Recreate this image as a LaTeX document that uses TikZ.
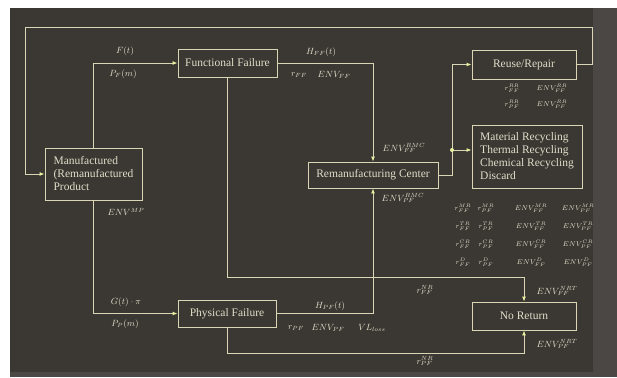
\documentclass[tikz,border=0pt]{standalone}
\usepackage{fontspec}
\setmainfont{Liberation Serif}
\usetikzlibrary{arrows.meta}
\definecolor{bgdark}{HTML}{3B3733}
\definecolor{bgstrip}{HTML}{4A4744}
\definecolor{linec}{HTML}{D9D5B5}
\definecolor{textc}{HTML}{E2DECA}
\definecolor{tipc}{HTML}{E8F0A0}
\tikzset{
  box/.style={draw=linec, line width=0.9pt, fill=bgdark, text=textc, inner sep=0pt,
    font=\fontsize{11.5}{13}\selectfont},
  conn/.style={draw=linec, line width=0.9pt},
  arr/.style={conn, -{Latex[length=5pt,width=4pt,color=tipc]}},
  lab/.style={text=textc, inner sep=0pt, font=\fontsize{9}{10}\selectfont},
  rowlab/.style={text=textc, inner sep=0pt, font=\fontsize{7.5}{9}\selectfont},
}
\begin{document}
\begin{tikzpicture}[x=1pt,y=-1pt]
\useasboundingbox (0,0) rectangle (617,377);
\fill[white] (0,0) rectangle (617,377);
\fill[bgdark] (10,8) rectangle (617,372);
\fill[bgstrip] (593,8) rectangle (617,377);
\fill[bgstrip] (10,372) rectangle (617,377);

% boxes
\node[box, minimum width=99, minimum height=28] (ff) at (227.5,63) {Functional Failure};
\node[box, minimum width=97, minimum height=52, align=left] (mp) at (93.5,174) {Manufactured\\(Remanufactured\\Product};
\node[box, minimum width=98, minimum height=27] (pf) at (227,313.5) {Physical Failure};
\node[box, minimum width=130, minimum height=26] (rmc) at (373,175) {Remanufacturing Center};
\node[box, minimum width=104, minimum height=29] (rr) at (524,64.5) {Reuse/Repair};
\node[box, minimum width=110, minimum height=63, align=left] (rec) at (527,156.5) {Material Recycling\\Thermal Recycling\\Chemical Recycling\\Discard};
\node[box, minimum width=104, minimum height=28] (nr) at (524,316) {No Return};

% bend coordinates
\coordinate (c1) at (592,27);
\coordinate (c2) at (25,27);
\coordinate (ffb) at (227.5,277);
\coordinate (pfb) at (227,353);
\coordinate (j) at (452,150);

% connectors
\draw[arr] (rr.east) -| (c1) -- (c2) |- (mp.west);
\draw[arr] (mp.north) |- (ff.west);
\draw[arr] (mp.south) |- (pf.west);
\draw[arr] (ff.east) -| (rmc.north);
\draw[arr] (pf.east) -| (rmc.south);
\draw[arr] (ff.south) -- (ffb) -| (nr.north);
\draw[arr] (pf.south) -- (pfb) -| (nr.south);
\draw[conn] (rmc.east) -| (j);
\draw[arr] (j) |- (rr.west);
\draw[arr] (j) -- (rec.west |- j);
\fill[tipc] (j) circle (2);

% labels
\node[lab] (lF) at (125,51) {$F(t)$};
\node[lab] (lPF) at (123,74) {$P_F(m)$};
\node[lab] (lG) at (126,302) {$G(t)\cdot\pi$};
\node[lab] (lPP) at (125,324) {$P_P(m)$};
\node[lab] (lenvmp) at (126,212) {$ENV^{MP}$};
\node[lab] (lHff) at (321,52) {$H_{FF}(t)$};
\node[lab] (lrff) at (299,75) {$r_{FF}$};
\node[lab] (lenvff) at (334,75) {$ENV_{FF}$};
\node[lab] (lermcff) at (404,148) {$ENV^{RMC}_{FF}$};
\node[lab] (lermcpf) at (403,198) {$ENV^{RMC}_{PF}$};
\node[lab] (lHpf) at (330,306) {$H_{PF}(t)$};
\node[lab] (lrpf) at (296,328) {$r_{PF}$};
\node[lab] (lenvpf) at (328,328) {$ENV_{PF}$};
\node[lab] (lvl) at (372,328) {$VL_{loss}$};

\node[rowlab] (rr1a) at (512,88) {$r^{RR}_{FF}$};
\node[rowlab] (rr1b) at (552,88) {$ENV^{RR}_{FF}$};
\node[rowlab] (rr2a) at (512,104) {$r^{RR}_{PF}$};
\node[rowlab] (rr2b) at (552,104) {$ENV^{RR}_{PF}$};

\node[rowlab] (m1) at (463,208) {$r^{MR}_{FF}$};
\node[rowlab] (m2) at (486,208) {$r^{MR}_{PF}$};
\node[rowlab] (m3) at (531,208) {$ENV^{MR}_{FF}$};
\node[rowlab] (m4) at (578,208) {$ENV^{MR}_{PF}$};
\node[rowlab] (t1) at (463,226) {$r^{TR}_{FF}$};
\node[rowlab] (t2) at (486,226) {$r^{TR}_{PF}$};
\node[rowlab] (t3) at (531,226) {$ENV^{TR}_{FF}$};
\node[rowlab] (t4) at (578,226) {$ENV^{TR}_{PF}$};
\node[rowlab] (h1) at (463,244) {$r^{CR}_{FF}$};
\node[rowlab] (h2) at (486,244) {$r^{CR}_{PF}$};
\node[rowlab] (h3) at (531,244) {$ENV^{CR}_{FF}$};
\node[rowlab] (h4) at (578,244) {$ENV^{CR}_{PF}$};
\node[rowlab] (d1) at (463,262) {$r^{D}_{FF}$};
\node[rowlab] (d2) at (486,262) {$r^{D}_{PF}$};
\node[rowlab] (d3) at (531,262) {$ENV^{D}_{FF}$};
\node[rowlab] (d4) at (578,262) {$ENV^{D}_{PF}$};

\node[lab] (lrnrff) at (425,290) {$r^{NR}_{FF}$};
\node[lab] (lenrff) at (557,291) {$ENV^{NRT}_{FF}$};
\node[lab] (lrnrpf) at (425,361) {$r^{NR}_{PF}$};
\node[lab] (lenrpf) at (557,344) {$ENV^{NRT}_{PF}$};
\end{tikzpicture}
\end{document}
